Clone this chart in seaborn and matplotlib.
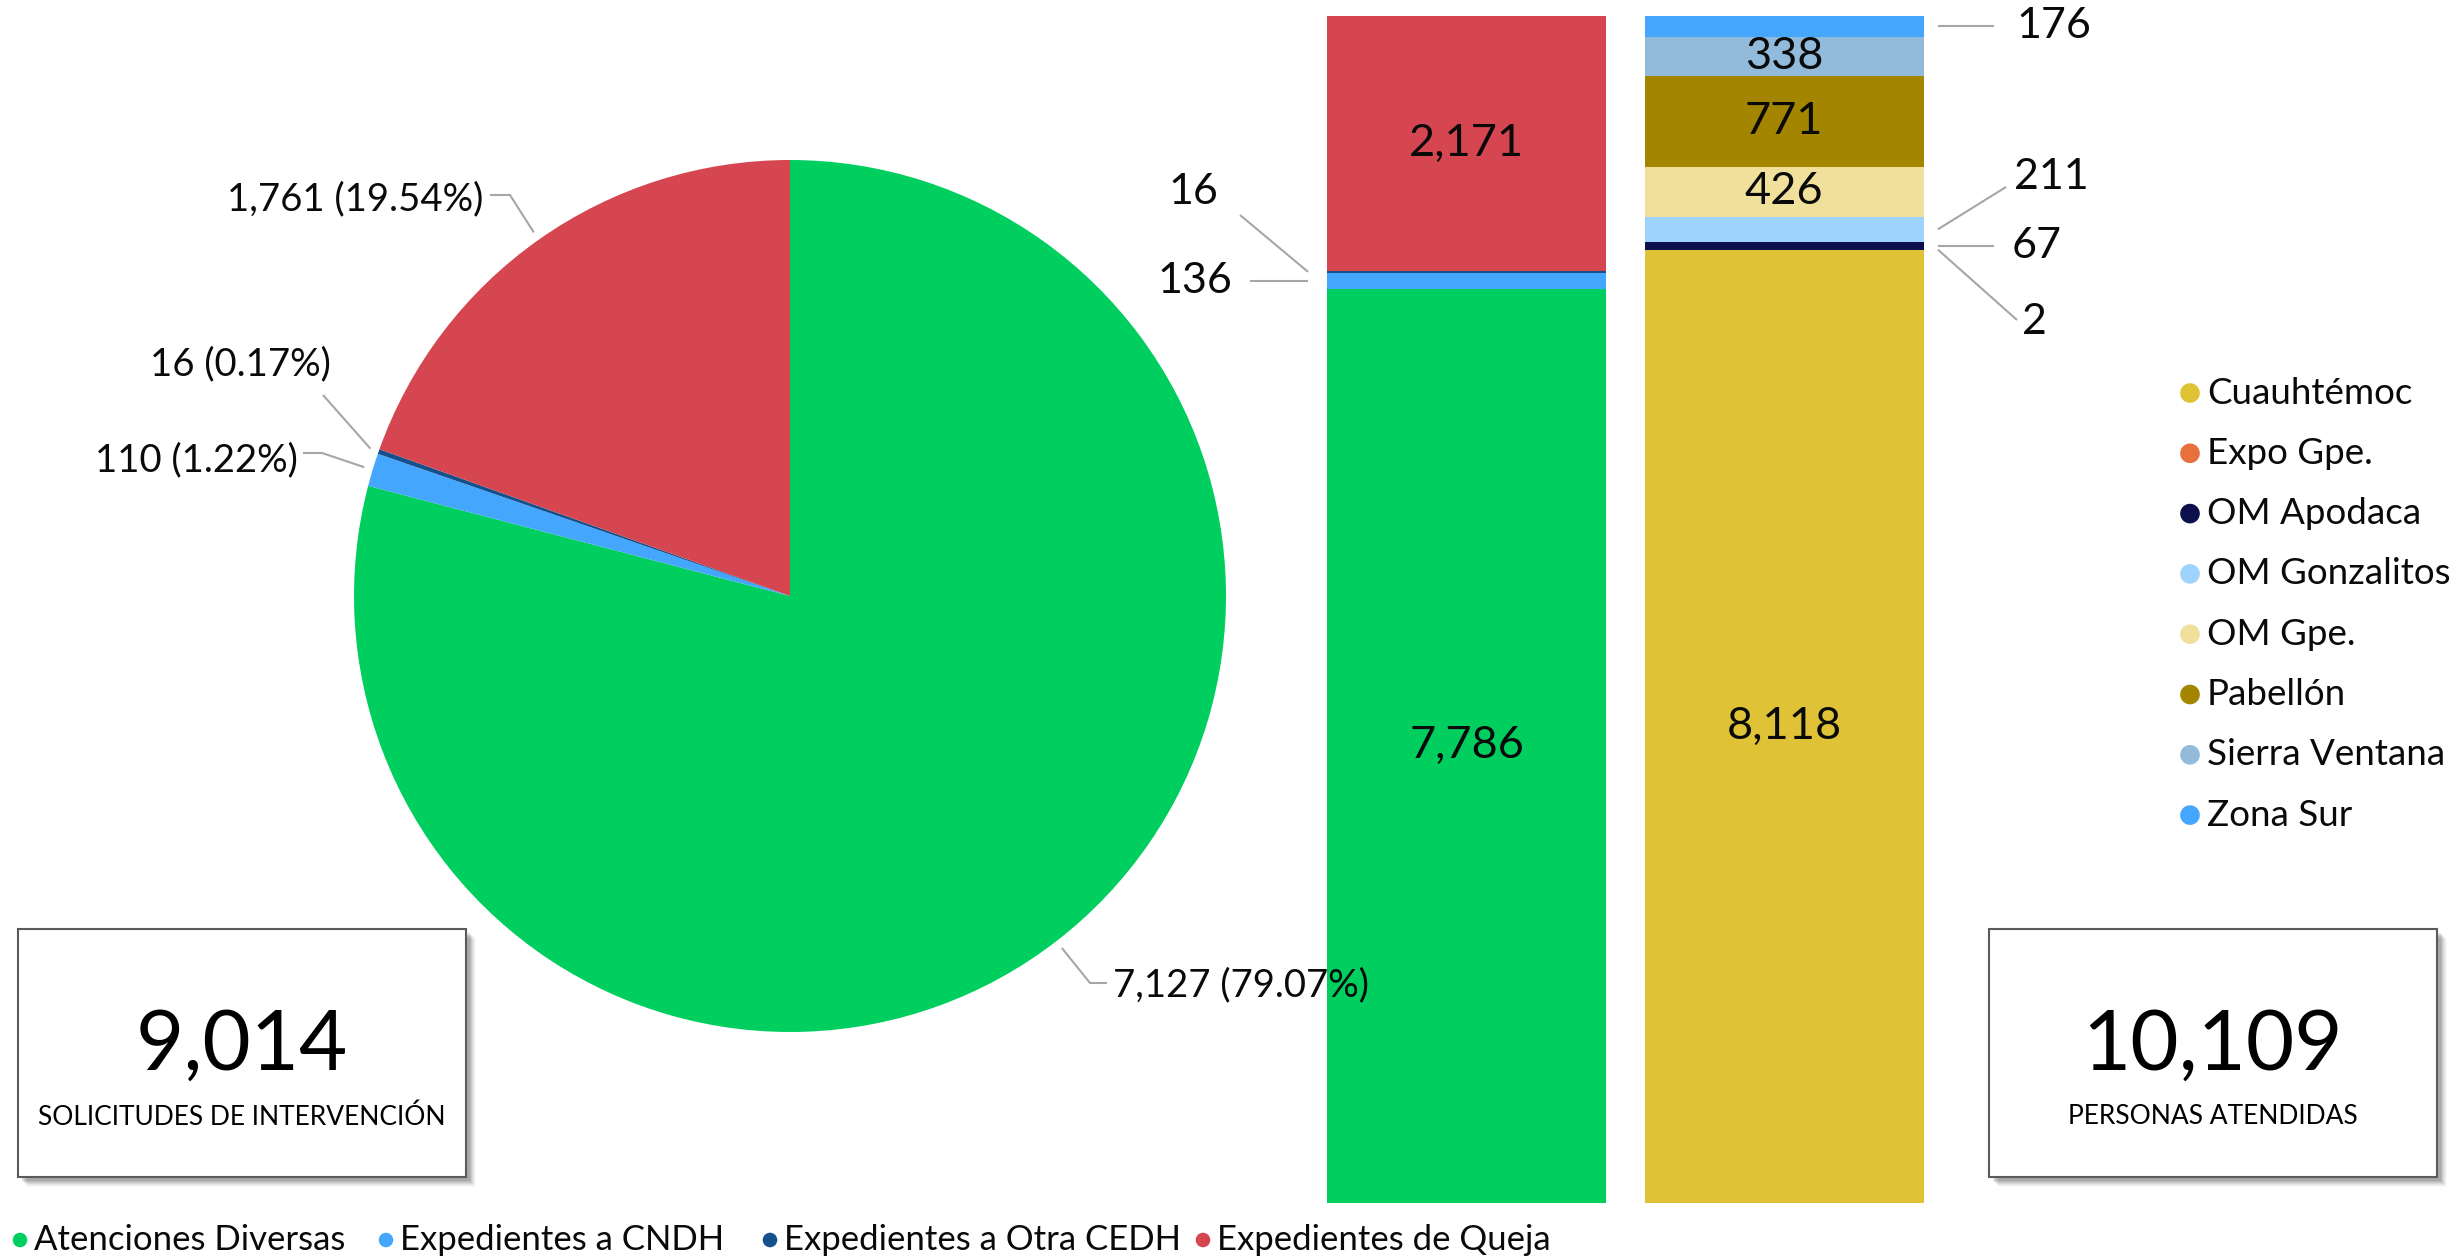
import numpy as np
import pandas as pd
import matplotlib
matplotlib.use("Agg")
import matplotlib.pyplot as plt
import seaborn as sns
from matplotlib.patches import Rectangle

# ---------------- data ----------------
pie_categories = ["Atenciones Diversas", "Expedientes a CNDH",
                  "Expedientes a Otra CEDH", "Expedientes de Queja"]
pie_values = [7127, 110, 16, 1761]
pie_percent = [79.07, 1.22, 0.17, 19.54]
pie_colors = ["#00CF5F", "#45A6FE", "#13508C", "#D64651"]

# left stacked bar (same categories, bottom -> top)
bar1_values = [7786, 136, 16, 2171]

# right stacked bar (offices, bottom -> top)
office_categories = ["Cuauhtémoc", "Expo Gpe.", "OM Apodaca", "OM Gonzalitos",
                     "OM Gpe.", "Pabellón", "Sierra Ventana", "Zona Sur"]
office_values = [8118, 2, 67, 211, 426, 771, 338, 176]
office_colors = ["#E0C236", "#E8703C", "#0C114D", "#9ED3FE",
                 "#F0E09C", "#A38500", "#92BBDB", "#45A6FE"]

total_solicitudes = 9014
total_personas = 10109
caption_left = "SOLICITUDES DE INTERVENCIÓN"
caption_right = "PERSONAS ATENDIDAS"

# ---------------- style ----------------
sns.set_theme(style="white")
plt.rcParams["font.family"] = ["Lato", "DejaVu Sans"]

W, H = 2463, 1259
fig = plt.figure(figsize=(W / 100, H / 100), dpi=100)
fig.patch.set_facecolor("white")

TXT = "#0A0A0A"
LEAD = "#A6A6A6"

def fpos(x0, y0, w, h):
    """pixel box (top-left origin) -> figure fraction rect"""
    return [x0 / W, 1 - (y0 + h) / H, w / W, h / H]

# ---------------- pie ----------------
cx, cy, r = 790, 596, 436
ax_pie = fig.add_axes(fpos(cx - r, cy - r, 2 * r, 2 * r))
wedges, _ = ax_pie.pie(pie_values, colors=pie_colors, startangle=90,
                       counterclock=False, radius=1.0,
                       wedgeprops=dict(linewidth=0))
ax_pie.set_xlim(-1, 1)
ax_pie.set_ylim(-1, 1)
ax_pie.set_aspect("equal")
ax_pie.axis("off")

# ---------------- stacked bars (seaborn histplot) ----------------
rows = []
for c, v in zip(pie_categories, bar1_values):
    rows.append({"bar": 0, "cat": c, "value": v})
for c, v in zip(office_categories, office_values):
    rows.append({"bar": 1, "cat": c, "value": v})
df = pd.DataFrame(rows)
palette = dict(zip(pie_categories + office_categories, pie_colors + office_colors))
hue_order = pie_categories[::-1] + office_categories[::-1]

ax_bar = fig.add_axes(fpos(1308, 16, 635, 1187))
sns.histplot(data=df, x="bar", weights="value", hue="cat", hue_order=hue_order,
             multiple="stack", discrete=True, shrink=0.88, palette=palette,
             alpha=1, linewidth=0, edgecolor="none", legend=False, ax=ax_bar)
ax_bar.set_xlim(-0.5, 1.5)
ax_bar.set_ylim(0, sum(bar1_values))
ax_bar.axis("off")

# ---------------- overlay (pixel coords, top-left origin) ----------------
ov = fig.add_axes([0, 0, 1, 1])
ov.set_xlim(0, W)
ov.set_ylim(H, 0)
ov.axis("off")
ov.set_zorder(10)
ov.patch.set_alpha(0)

def to_px(ax, x, y):
    p = ax.transData.transform((x, y))
    return p[0], H - p[1]

# pie labels
pie_label_style = {
    "Atenciones Diversas": dict(text=(1113, 985), ha="left", pts=[(1090, 983), (1107, 983)]),
    "Expedientes a CNDH": dict(text=(298, 460), ha="right", pts=[(322, 453), (303, 453)]),
    "Expedientes a Otra CEDH": dict(text=(331, 364), ha="right", pts=[(323, 395)]),
    "Expedientes de Queja": dict(text=(483, 199), ha="right", pts=[(510, 195), (490, 195)]),
}
for w, cat, v, pct in zip(wedges, pie_categories, pie_values, pie_percent):
    mid = np.deg2rad((w.theta1 + w.theta2) / 2)
    ax0, ay0 = to_px(ax_pie, 1.02 * np.cos(mid), 1.02 * np.sin(mid))
    st = pie_label_style[cat]
    xs = [ax0] + [p[0] for p in st["pts"]]
    ys = [ay0] + [p[1] for p in st["pts"]]
    ov.plot(xs, ys, color=LEAD, lw=1.5, solid_capstyle="butt")
    ov.text(st["text"][0], st["text"][1], f"{v:,} ({pct:.2f}%)", ha=st["ha"],
            va="center", fontsize=27.5, color=TXT)

# bar labels
outside_style = {
    (0, "Expedientes a Otra CEDH"): dict(text=(1218, 192), ha="right", end=(1240, 215)),
    (0, "Expedientes a CNDH"): dict(text=(1232, 279), ha="right", end=(1250, None)),
    (1, "Zona Sur"): dict(text=(2016, 27), ha="left", end=(1994, None)),
    (1, "OM Gonzalitos"): dict(text=(2014, 177), ha="left", end=(2006, 187)),
    (1, "OM Apodaca"): dict(text=(2012, 248), ha="left", end=(1994, None)),
    (1, "Expo Gpe."): dict(text=(2022, 322), ha="left", end=(2017, 320)),
}
half = 0.44
for b, cats, vals in [(0, pie_categories, bar1_values), (1, office_categories, office_values)]:
    bottoms = np.concatenate([[0], np.cumsum(vals)[:-1]])
    for c, v, b0 in zip(cats, vals, bottoms):
        ymid = b0 + v / 2
        key = (b, c)
        if key in outside_style:
            st = outside_style[key]
            if st["ha"] == "right":
                sx, sy = to_px(ax_bar, b - half, ymid)
                sx -= 19
            else:
                sx, sy = to_px(ax_bar, b + half, ymid)
                sx += 14
            ex, ey = st["end"]
            if ey is None:
                ey = sy
                ty = sy
            else:
                ty = st["text"][1]
            ov.plot([sx, ex], [sy, ey], color=LEAD, lw=1.5, solid_capstyle="butt")
            ov.text(st["text"][0], ty, f"{v:,}", ha=st["ha"], va="center",
                    fontsize=31, color=TXT)
        elif v >= 300:
            ax_bar.text(b, ymid, f"{v:,}", ha="center", va="center",
                        fontsize=32.5, color=TXT)

# summary boxes
def summary_box(x0, y0, w, h, number, caption):
    for k, a in zip(range(7, 0, -1), [0.025, 0.035, 0.045, 0.055, 0.065, 0.075, 0.085]):
        ov.add_patch(Rectangle((x0 + 3 + k, y0 + 3 + k), w, h, facecolor="#000000",
                               edgecolor="none", alpha=a, zorder=1))
    ov.add_patch(Rectangle((x0, y0), w, h, facecolor="white", edgecolor="#5A5A5A",
                           lw=1.5, zorder=2))
    ov.text(x0 + w / 2, y0 + 118, f"{number:,}", ha="center", va="center",
            fontsize=60, color="#000000", zorder=3)
    ov.text(x0 + w / 2, y0 + 188, caption, ha="center", va="center",
            fontsize=19, color="#000000", zorder=3)

summary_box(18, 929, 448, 248, total_solicitudes, caption_left)
summary_box(1989, 929, 448, 248, total_personas, caption_right)

# right legend (offices)
leg_y0, leg_dy = 393, 60.3
for i, (c, col) in enumerate(zip(office_categories, office_colors)):
    y = leg_y0 + i * leg_dy
    ov.scatter([2190], [y], s=200, color=col, edgecolor="none", zorder=5)
    ov.text(2207, y, c, ha="left", va="center", fontsize=26.5, color=TXT)

# bottom legend (request types)
bottom_x = [20, 386, 770, 1203]
for x, c, col in zip(bottom_x, pie_categories, pie_colors):
    ov.scatter([x], [1240], s=110, color=col, edgecolor="none", zorder=5)
    ov.text(x + 14, 1240, c, ha="left", va="center", fontsize=25, color=TXT)

fig.savefig("out.png", dpi=100, facecolor="white")
